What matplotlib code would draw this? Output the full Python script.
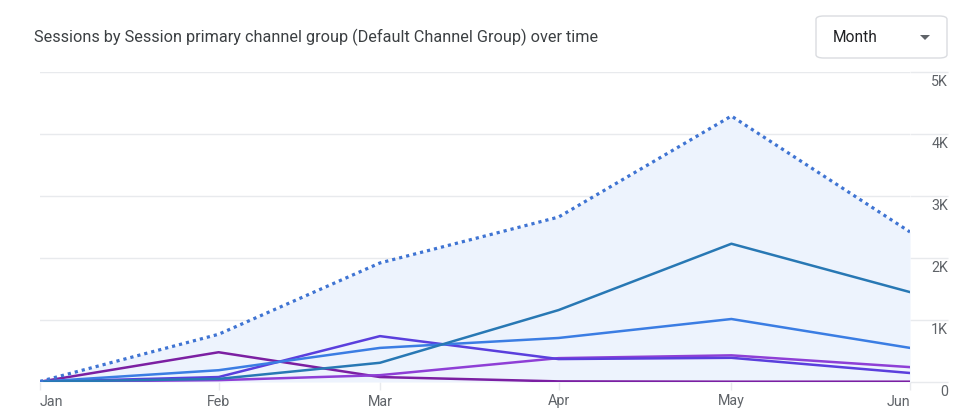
"""Sessions by channel group over time (GA4-style line chart)."""

from datetime import date

import matplotlib

matplotlib.use("Agg")
import matplotlib.pyplot as plt
from matplotlib.patches import FancyBboxPatch, Polygon
from matplotlib.transforms import blended_transform_factory

plt.rcParams["font.family"] = ["Roboto", "DejaVu Sans"]

months = [date(2023, m, 1) for m in range(1, 7)]
month_labels = ["Jan", "Feb", "Mar", "Apr", "May", "Jun"]

total = [10, 770, 1920, 2660, 4290, 2420]
teal = [5, 50, 310, 1160, 2230, 1450]
blue = [5, 190, 550, 710, 1016, 550]
indigo = [5, 80, 740, 370, 390, 145]
violet = [5, 30, 110, 385, 430, 240]
plum = [5, 480, 80, 10, 5, 5]

y_ticks = [0, 1000, 2000, 3000, 4000, 5000]
y_tick_labels = ["0", "1K", "2K", "3K", "4K", "5K"]

GRID = "#e8eaed"
LABEL = "#5f6368"

fig = plt.figure(figsize=(9.8, 4.2), dpi=100)
ax = fig.add_axes([40 / 980, 38 / 420, 870 / 980, 310 / 420])

# filled area under the total
ax.fill_between(months, 0, total, color="#edf3fd", zorder=1, linewidth=0)
ax.plot(months, total, color="#3f74d3", linewidth=2.3,
        linestyle=(0, (1.0, 1.25)), zorder=5)

series = [
    (plum, "#7b1fa2"),
    (violet, "#8e3fd6"),
    (indigo, "#5a3fdd"),
    (blue, "#3b7de3"),
    (teal, "#2878b4"),
]
for values, color in series:
    ax.plot(months, values, color=color, linewidth=1.8, zorder=4)

ax.set_xlim(months[0], months[-1])
ax.set_ylim(0, 5000)

for s in ax.spines.values():
    s.set_visible(False)

# horizontal grid + right-hand tick stubs
ax.yaxis.tick_right()
ax.set_yticks(y_ticks)
ax.set_yticklabels([])
ax.tick_params(axis="y", length=27, width=1, color=GRID, direction="out", pad=0)
ax.grid(axis="y", color=GRID, linewidth=1)
ax.set_axisbelow(True)

trans = blended_transform_factory(fig.transFigure, ax.transData)
for v, lab in zip(y_ticks, y_tick_labels):
    ax.text(948 / 980, v - 45, lab, transform=trans, ha="right", va="top",
            fontsize=10.3, color=LABEL)

# month ticks
ax.set_xticks(months)
ax.set_xticklabels(month_labels)
ax.tick_params(axis="x", length=6, width=1, color=GRID, pad=3,
               labelsize=10.3, labelcolor=LABEL)
for i, lbl in enumerate(ax.get_xticklabels()):
    if i == 0:
        lbl.set_ha("left")
    elif i == len(month_labels) - 1:
        lbl.set_ha("right")

# title
fig.text(34 / 980, 1 - 37 / 420,
         "Sessions by Session primary channel group (Default Channel Group) over time",
         ha="left", va="center", fontsize=11.7, color="#3c4043")

# "Month" dropdown
box = FancyBboxPatch((816 / 980, 1 - 58 / 420), 131 / 980, 42 / 420,
                     boxstyle="round,pad=0,rounding_size=0.008",
                     transform=fig.transFigure, facecolor="white",
                     edgecolor="#dadce0", linewidth=1)
fig.patches.append(box)
fig.text(833 / 980, 1 - 37 / 420, "Month", ha="left", va="center",
         fontsize=11.2, color="#202124")
caret = Polygon([(920 / 980, 1 - 35 / 420), (930 / 980, 1 - 35 / 420),
                 (925 / 980, 1 - 40 / 420)], closed=True,
                transform=fig.transFigure, facecolor="#5f6368", edgecolor="none")
fig.patches.append(caret)

fig.savefig("out.png", dpi=100)
